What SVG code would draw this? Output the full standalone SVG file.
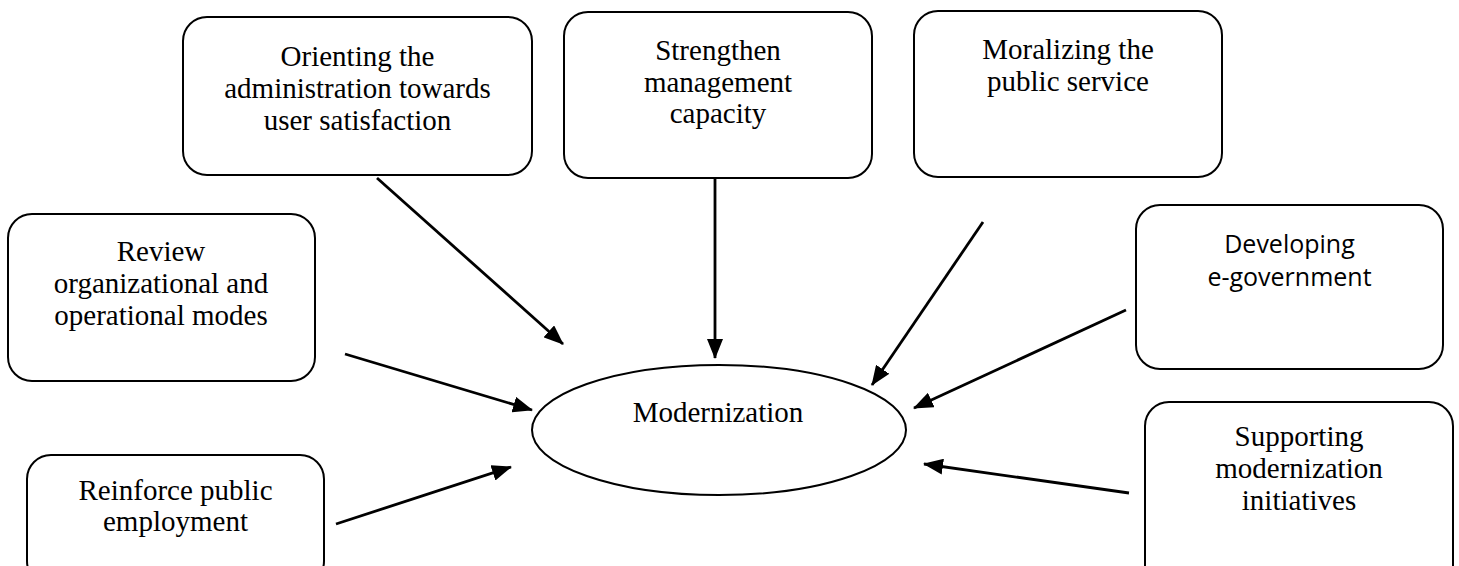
<svg xmlns="http://www.w3.org/2000/svg" width="1459" height="566" viewBox="0 0 1459 566">
<style>
.box{fill:#fff;stroke:#000;stroke-width:2}
.t{font-family:"Liberation Serif","Times New Roman",serif;font-size:29px;fill:#000;text-anchor:middle}
.s{font-family:"Open Sans","Noto Sans",sans-serif;font-size:25px;fill:#000;text-anchor:middle}
.c{stroke:#000;stroke-width:2.8;fill:none;marker-end:url(#ah)}
</style>
<defs>
<marker id="ah" markerUnits="userSpaceOnUse" viewBox="0 0 20 16" refX="19" refY="8" markerWidth="20" markerHeight="16" orient="auto">
<path d="M0,0 L20,8 L0,16 Z" fill="#000"/>
</marker>
</defs>
<rect width="1459" height="566" fill="#fff"/>
<g id="connectors">
<line class="c" x1="377" y1="178" x2="563" y2="344"/>
<line class="c" x1="715" y1="178" x2="715" y2="358"/>
<line class="c" x1="983" y1="222" x2="872" y2="385"/>
<line class="c" x1="345" y1="354" x2="532" y2="410"/>
<line class="c" x1="1126" y1="310" x2="914" y2="408"/>
<line class="c" x1="336" y1="524" x2="511" y2="467"/>
<line class="c" x1="1129" y1="493" x2="924" y2="464"/>
</g>
<g id="node-orienting">
<rect class="box" x="183" y="17" width="349" height="158" rx="24"/>
<text class="t" x="357.5" y="66">Orienting the</text>
<text class="t" x="357.5" y="98">administration towards</text>
<text class="t" x="357.5" y="130">user satisfaction</text>
</g>
<g id="node-strengthen">
<rect class="box" x="564" y="12" width="308" height="166" rx="24"/>
<text class="t" x="718" y="60">Strengthen</text>
<text class="t" x="718" y="92">management</text>
<text class="t" x="718" y="123">capacity</text>
</g>
<g id="node-moralizing">
<rect class="box" x="914" y="11" width="308" height="166" rx="24"/>
<text class="t" x="1068" y="59">Moralizing the</text>
<text class="t" x="1068" y="91">public service</text>
</g>
<g id="node-review">
<rect class="box" x="8" y="214" width="307" height="167" rx="24"/>
<text class="t" x="161" y="261">Review</text>
<text class="t" x="161" y="293">organizational and</text>
<text class="t" x="161" y="325">operational modes</text>
</g>
<g id="node-egov">
<rect class="box" x="1136" y="205" width="307" height="164" rx="24"/>
<text class="s" x="1289.5" y="253">Developing</text>
<text class="s" x="1289.5" y="286">e-government</text>
</g>
<g id="node-reinforce">
<rect class="box" x="27" y="455" width="297" height="130" rx="24"/>
<text class="t" x="175.5" y="500">Reinforce public</text>
<text class="t" x="175.5" y="531">employment</text>
</g>
<g id="node-supporting">
<rect class="box" x="1145" y="402" width="308" height="190" rx="24"/>
<text class="t" x="1299" y="446">Supporting</text>
<text class="t" x="1299" y="478">modernization</text>
<text class="t" x="1299" y="510">initiatives</text>
</g>
<g id="node-modernization">
<ellipse class="box" cx="719" cy="430" rx="187" ry="65"/>
<text class="t" x="718" y="422">Modernization</text>
</g>
</svg>
